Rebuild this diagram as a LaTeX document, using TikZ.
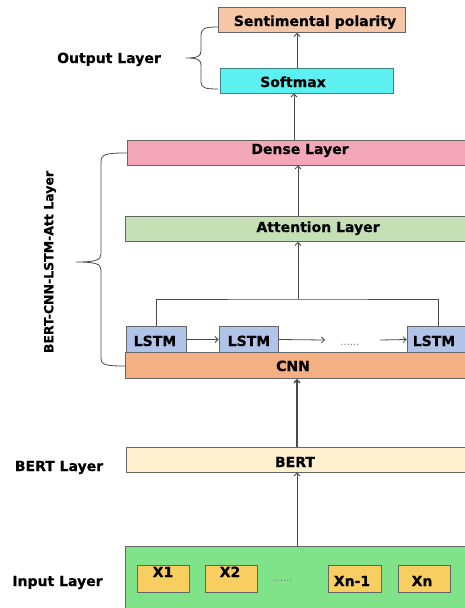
\documentclass[tikz,border=0pt]{standalone}
\usepackage{fontspec}
\setmainfont{DejaVu Sans}[BoldFeatures={FakeBold=0.6}]
\usetikzlibrary{arrows.meta}
\definecolor{bordergray}{HTML}{656565}
\definecolor{linegray}{HTML}{4A4A4A}
\definecolor{sentfill}{HTML}{F6C7A6}
\definecolor{softfill}{HTML}{5CF0F0}
\definecolor{softborder}{HTML}{3A8585}
\definecolor{densefill}{HTML}{F5A7BA}
\definecolor{attfill}{HTML}{C6E0B5}
\definecolor{lstmfill}{HTML}{AFC4E8}
\definecolor{cnnfill}{HTML}{F4AF82}
\definecolor{bertfill}{HTML}{FFF1CF}
\definecolor{inputfill}{HTML}{80E389}
\definecolor{xfill}{HTML}{F8CE60}
\tikzset{
  box/.style={draw=bordergray, line width=0.9pt, rectangle, inner sep=0pt},
  lbl/.style={anchor=base, inner sep=0pt, font=\fontsize{14}{16}\selectfont\bfseries, text=black},
  dots/.style={anchor=base, inner sep=0pt, font=\fontsize{10}{12}\selectfont, text=gray},
  arr/.style={draw=linegray, line width=0.8pt, -{Straight Barb[length=3pt,width=6pt]}},
  conn/.style={draw=linegray, line width=0.8pt},
  bracestyle/.style={draw=linegray, line width=0.8pt}
}
\begin{document}
\begin{tikzpicture}[x=1pt,y=-1pt]
\useasboundingbox (0,0) rectangle (465,608);
\clip (0,0) rectangle (465,608);
\fill[white] (0,0) rectangle (465,608);

% output layer
\node[box, fill=sentfill, minimum width=187pt, minimum height=25pt] (sent) at (311.5,20) {};
\node[lbl] (senttxt) at (315,26) {Sentimental polarity};
\node[box, draw=softborder, fill=softfill, minimum width=173pt, minimum height=25pt] (soft) at (306.5,80.5) {};
\node[lbl] (softtxt) at (293,87) {Softmax};
\node[lbl] (outlbl) at (109,63) {Output Layer};

% dense / attention
\node[box, fill=densefill, minimum width=360pt, minimum height=25pt] (dense) at (307,152.5) {};
\node[lbl] (densetxt) at (300,154) {Dense Layer};
\node[box, fill=attfill, minimum width=360pt, minimum height=25pt] (att) at (305,229) {};
\node[lbl] (atttxt) at (318,232) {Attention Layer};

% CNN and LSTMs
\node[box, fill=cnnfill, minimum width=360pt, minimum height=26pt] (cnn) at (305,365.5) {};
\node[lbl] (cnntxt) at (293,371) {CNN};
\node[box, fill=lstmfill, minimum width=60pt, minimum height=26pt] (l1) at (156,339.5) {};
\node[lbl] (l1txt) at (155,346) {LSTM};
\node[box, fill=lstmfill, minimum width=59pt, minimum height=26pt] (l2) at (248.5,339.5) {};
\node[lbl] (l2txt) at (249,346) {LSTM};
\node[box, fill=lstmfill, minimum width=62pt, minimum height=26pt] (l3) at (438,339.5) {};
\node[lbl] (l3txt) at (434,346) {LSTM};
\node[dots] (ldots) at (350,345) {......};
\coordinate (a2end) at (325,340);
\coordinate (a3start) at (380,340);

% BERT
\node[box, fill=bertfill, minimum width=360pt, minimum height=25pt] (bert) at (306,459.5) {};
\node[lbl] (berttxt) at (295,467) {BERT};
\node[lbl] (bertlbl) at (59,471) {BERT Layer};

% input
\node[box, fill=inputfill, minimum width=360pt, minimum height=62pt] (inp) at (305,577) {};
\node[lbl] (inlbl) at (57.5,586) {Input Layer};
\node[box, fill=xfill, minimum width=52pt, minimum height=27pt] (x1) at (163,578.5) {};
\node[lbl] (x1txt) at (163,577) {X1};
\node[box, fill=xfill, minimum width=52pt, minimum height=27pt] (x2) at (231,578.5) {};
\node[lbl] (x2txt) at (230,577) {X2};
\node[dots] (xdots) at (283,581) {......};
\node[box, fill=xfill, minimum width=53pt, minimum height=27pt] (xn1) at (354.5,578.5) {};
\node[lbl] (xn1txt) at (352,586) {Xn-1};
\node[box, fill=xfill, minimum width=52pt, minimum height=27pt] (xn) at (424,578.5) {};
\node[lbl] (xntxt) at (422,586) {Xn};

% side label
\node[anchor=center, inner sep=0pt, rotate=90, font=\fontsize{12.5}{14}\selectfont\bfseries] (biglbl) at (50,262) {BERT-CNN-LSTM-Att Layer};

% arrows
\coordinate (ax) at (297,0);
\coordinate (bx) at (294,0);
\draw[arr] (inp.north -| ax) -- (bert.south -| ax);
\draw[arr, line width=1.4pt] (bert.north -| ax) -- (cnn.south -| ax);
\draw[arr] (l1.east) -- (l2.west);
\draw[arr] (l2.east) -- (a2end);
\draw[arr] (a3start) -- (l3.west);
\coordinate (j) at (298,299);
\draw[conn] (l1.north) |- (j) -| (l3.north);
\draw[arr] (j) -- (j |- att.south);
\draw[arr] (att.north -| j) -- (dense.south -| j);
\draw[arr] (dense.north -| bx) -- (soft.south -| bx);
\draw[arr] (soft.north -| ax) -- (sent.south -| ax);

% braces
\draw[bracestyle] (218,27) .. controls (205,27) and (201,28) .. (201,36) -- (201,51)
  .. controls (201,56) and (198,58) .. (186,58)
  .. controls (198,58) and (201,60) .. (201,65) -- (201,81)
  .. controls (201,88) and (205,89) .. (218,89);
\draw[bracestyle] (127,153) .. controls (106,153) and (101,154) .. (101,162) -- (101,254)
  .. controls (101,260) and (96,262) .. (76,262)
  .. controls (96,262) and (101,264) .. (101,270) -- (101,358)
  .. controls (101,365) and (106,366) .. (125,366);
\end{tikzpicture}
\end{document}
